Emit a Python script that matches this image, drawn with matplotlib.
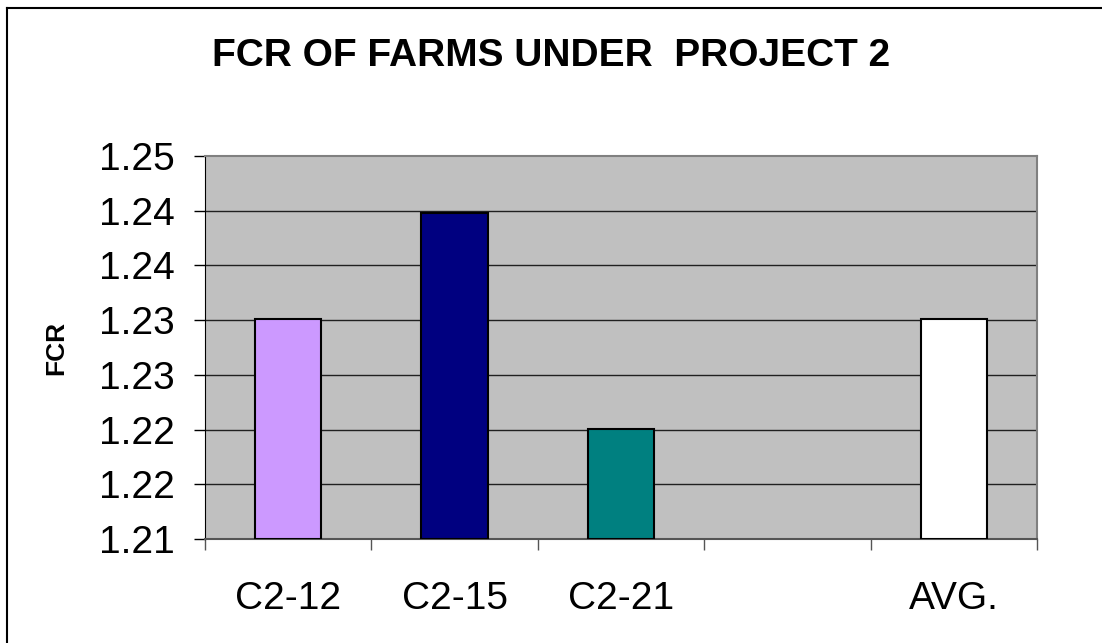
import numpy as np
import matplotlib

matplotlib.use("Agg")
import matplotlib.pyplot as plt
from matplotlib.lines import Line2D

# ---- data ----
categories = ["C2-12", "C2-15", "C2-21", "", "AVG."]
fcr_values = [1.233, 1.244, 1.2215, np.nan, 1.233]
bar_colors = ["#CC99FF", "#000080", "#008080", "#FFFFFF", "#FFFFFF"]
y_ticks = np.linspace(1.21, 1.25, 8)
y_tick_labels = [f"{v:.2f}" for v in y_ticks]

plt.rcParams["font.family"] = ["Liberation Sans", "DejaVu Sans"]

fig = plt.figure(figsize=(11.02, 6.43), dpi=100)
ax = fig.add_axes([0.186, 0.1617, 0.755, 0.5957])
ax.set_facecolor("#C0C0C0")

x = np.arange(len(categories))
for xi, val, col in zip(x, fcr_values, bar_colors):
    if np.isnan(val):
        continue
    ax.bar(xi, val - 1.21, bottom=1.21, width=0.4, color=col,
           edgecolor="black", linewidth=1.5, zorder=3)

ax.set_xlim(-0.5, len(categories) - 0.5)
ax.set_ylim(1.21, 1.25)

# horizontal gridlines
for t in y_ticks[1:-1]:
    ax.axhline(t, color="#202020", linewidth=1, zorder=1)

ax.set_yticks(y_ticks)
ax.set_yticklabels(y_tick_labels, fontsize=28)
ax.tick_params(axis="y", direction="out", length=8, width=1, pad=14)

ax.set_xticks(x)
ax.set_xticklabels(categories, fontsize=28)
ax.set_xticks(np.arange(-0.5, len(categories)), minor=True)
ax.tick_params(axis="x", which="major", length=0, pad=30)
ax.tick_params(axis="x", which="minor", direction="out", length=8, width=1,
               color="#555555")

for side in ["top", "right"]:
    ax.spines[side].set_color("#808080")
    ax.spines[side].set_linewidth(1.5)
ax.spines["left"].set_color("black")
ax.spines["bottom"].set_color("#555555")
ax.spines["bottom"].set_linewidth(1.5)

ax.set_ylabel("FCR", fontsize=19, fontweight="bold", labelpad=22)

fig.text(0.5, 0.913, "FCR OF FARMS UNDER  PROJECT 2", ha="center",
         va="center", fontsize=28, fontweight="bold")

# chart-area border (only left and top visible in the original)
fig.add_artist(Line2D([7 / 1102, 7 / 1102], [0, 1 - 8 / 643],
                      transform=fig.transFigure, color="black", linewidth=1.5))
fig.add_artist(Line2D([7 / 1102, 1], [1 - 8 / 643, 1 - 8 / 643],
                      transform=fig.transFigure, color="black", linewidth=1.5))

fig.savefig("out.png", dpi=100)
